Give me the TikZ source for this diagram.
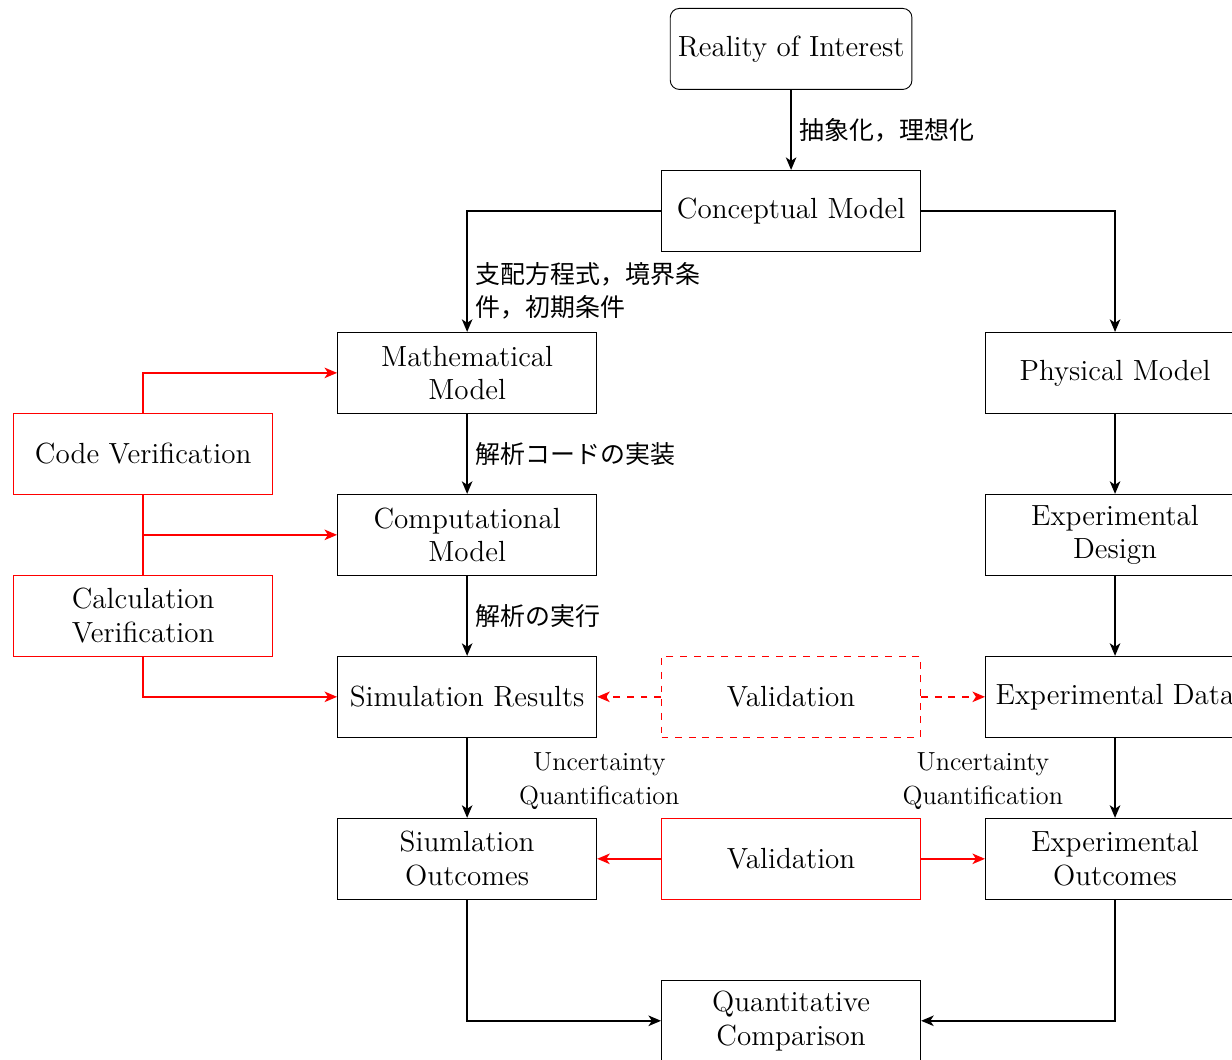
\documentclass[tikz,border=0pt]{standalone}
\usepackage{fontspec}
\newfontfamily\jpfont{Noto Sans CJK JP}
\usetikzlibrary{positioning,arrows.meta}
\begin{document}
\begin{tikzpicture}[
  font=\fontsize{12.8}{14.8}\selectfont,
  box/.style={draw, minimum width=4cm, minimum height=1.25cm, align=center, inner sep=0.333em},
  redbox/.style={box, draw=red},
  dashbox/.style={box, draw=red, dashed},
  tip/.style={-{Stealth[length=5.5pt, width=4.6pt, inset=1.5pt]}},
  arr/.style={tip, thick},
  redarr/.style={tip, thick, red},
  redline/.style={thick, red},
  lbl/.style={font=\fontsize{11.5}{15}\selectfont, align=center},
  jlbl/.style={font=\fontsize{10.95}{14.5}\selectfont\jpfont, align=left}
]
\useasboundingbox (-12.21,0.755) rectangle (6.805,-15.60);

\node[draw, rounded corners, minimum height=1.25cm] (real) at (0,0) {Reality of Interest};
\node[box] (concept) at (0,-2.5) {Conceptual Model};
\node[box] (math) at (-5,-5) {Mathematical\\Model};
\node[box] (phys) at (5,-5) {Physical Model};
\node[box] (comp) at (-5,-7.5) {Computational\\Model};
\node[box] (design) at (5,-7.5) {Experimental\\Design};
\node[box] (simres) at (-5,-10) {Simulation Results};
\node[dashbox] (val1) at (0,-10) {Validation};
\node[box] (expdata) at (5,-10) {Experimental Data};
\node[box] (simout) at (-5,-12.5) {Siumlation\\Outcomes};
\node[redbox] (val2) at (0,-12.5) {Validation};
\node[box] (expout) at (5,-12.5) {Experimental\\Outcomes};
\node[box] (quant) at (0,-15) {Quantitative\\Comparison};
\node[redbox] (codever) at (-10,-6.25) {Code Verification};
\node[redbox] (calcver) at (-10,-8.75) {Calculation\\Verification};

\draw[arr] (real) -- node[right, jlbl] {抽象化，理想化} (concept);
\draw[arr] (concept.west) -| node[pos=0.83, right, jlbl] {支配方程式，境界条\\件，初期条件} (math.north);
\draw[arr] (concept.east) -| (phys.north);
\draw[arr] (math) -- node[right, jlbl] {解析コードの実装} (comp);
\draw[arr] (comp) -- node[right, jlbl] {解析の実行} (simres);
\draw[arr] (phys) -- (design);
\draw[arr] (design) -- (expdata);
\draw[arr] (simres) -- (simout);
\draw[arr] (expdata) -- (expout);
\node[lbl] (uq1) at (-2.96,-11.3) {Uncertainty\\Quantification};
\node[lbl] (uq2) at (2.96,-11.3) {Uncertainty\\Quantification};
\draw[arr] (simout.south) |- (quant.west);
\draw[arr] (expout.south) |- (quant.east);

\draw[redarr, dashed] (val1) -- (simres);
\draw[redarr, dashed] (val1) -- (expdata);
\draw[redarr] (val2) -- (simout);
\draw[redarr] (val2) -- (expout);

\draw[redarr] (codever.north) |- (math.west);
\draw[redarr] (codever.south) |- (comp.west);
\draw[redline] (calcver.north) -- (codever.south);
\draw[redarr] (calcver.south) |- (simres.west);
\end{tikzpicture}
\end{document}
